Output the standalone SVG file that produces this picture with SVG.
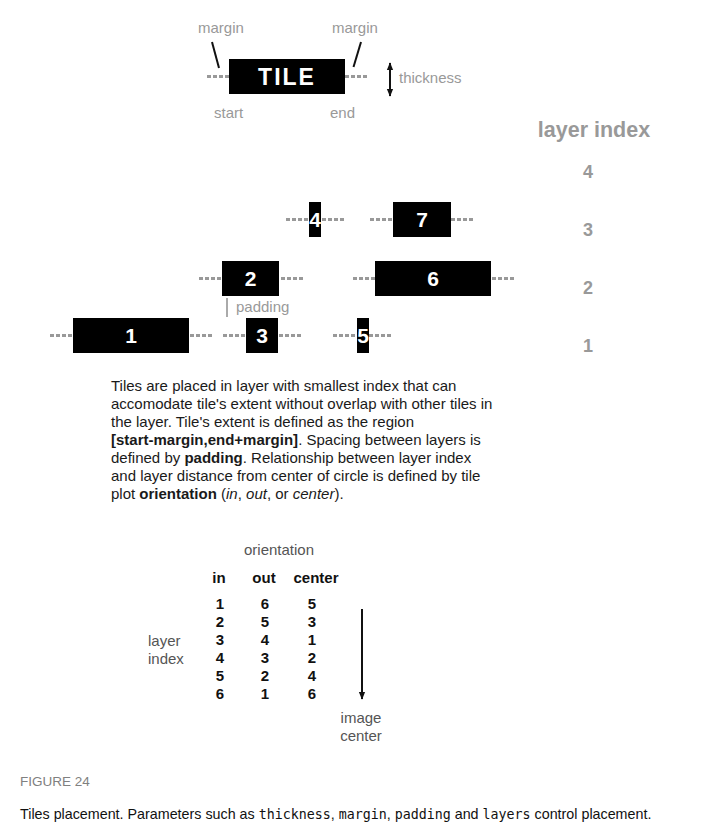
<svg xmlns="http://www.w3.org/2000/svg" width="702" height="832" viewBox="0 0 702 832">
<style>
.sans{font-family:"Liberation Sans",Arial,sans-serif}
.lbl{font-family:"Liberation Sans",Arial,sans-serif;font-size:15px;fill:#999}
.dots{stroke:#999;stroke-width:3;stroke-dasharray:4 2;fill:none}
.tile{fill:#000}
.tnum{font-family:"Liberation Sans",Arial,sans-serif;font-size:21px;font-weight:bold;fill:#fff;text-anchor:middle}
.lidx{font-family:"Liberation Sans",Arial,sans-serif;font-size:18px;font-weight:bold;fill:#999;text-anchor:middle}
.para{font-family:"Liberation Sans",Arial,sans-serif;font-size:15px;fill:#1a1a1a}
.tb{font-family:"Liberation Sans",Arial,sans-serif;font-size:15px;font-weight:bold;fill:#111;text-anchor:middle}
.dg{font-family:"Liberation Sans",Arial,sans-serif;font-size:15px;fill:#555}
.mono{font-family:"DejaVu Sans Mono","Liberation Mono",monospace;font-size:13.3px}
</style>
<defs>
<marker id="ah" viewBox="0 0 10 10" refX="9" refY="5" markerWidth="4" markerHeight="4" orient="auto-start-reverse" markerUnits="strokeWidth">
<path d="M0,1 L10,5 L0,9 Z" fill="#111"/>
</marker>
</defs>
<rect width="702" height="832" fill="#fff"/>

<g id="tile-legend">
<line class="dots" x1="207" y1="76.5" x2="229" y2="76.5"/>
<line class="dots" x1="345" y1="76.5" x2="367" y2="76.5"/>
<rect class="tile" x="229" y="59" width="116" height="35"/>
<text x="287" y="85" font-family="Liberation Sans,Arial,sans-serif" font-size="23" font-weight="bold" fill="#fff" text-anchor="middle" letter-spacing="2">TILE</text>
<text class="lbl" x="198" y="33">margin</text>
<text class="lbl" x="332" y="33">margin</text>
<line x1="212" y1="42" x2="219" y2="68" stroke="#111" stroke-width="2"/>
<line x1="361" y1="42" x2="353.5" y2="67" stroke="#111" stroke-width="2"/>
<text class="lbl" x="214" y="118">start</text>
<text class="lbl" x="330" y="118">end</text>
<line x1="390" y1="63" x2="390" y2="96" stroke="#111" stroke-width="2" marker-start="url(#ah)" marker-end="url(#ah)"/>
<text class="lbl" x="399" y="83">thickness</text>
</g>

<g id="layer-index">
<text x="594" y="137" class="sans" font-size="21.5" font-weight="bold" fill="#999" text-anchor="middle">layer index</text>
<text class="lidx" x="588" y="178">4</text>
<text class="lidx" x="588" y="236">3</text>
<text class="lidx" x="588" y="294">2</text>
<text class="lidx" x="588" y="352">1</text>
</g>

<g id="connectors">
<line class="dots" x1="286" y1="219.5" x2="344" y2="219.5"/>
<line class="dots" x1="370" y1="219.5" x2="393" y2="219.5"/>
<line class="dots" x1="451" y1="219.5" x2="473" y2="219.5"/>
<line class="dots" x1="199" y1="278.5" x2="222" y2="278.5"/>
<path class="dots" d="M281,278.5 H303"/>
<line class="dots" x1="353" y1="278.5" x2="375" y2="278.5"/>
<line class="dots" x1="492" y1="278.5" x2="514" y2="278.5"/>
<line class="dots" x1="50" y1="335.5" x2="73" y2="335.5"/>
<line class="dots" x1="190" y1="335.5" x2="212" y2="335.5"/>
<line class="dots" x1="223" y1="335.5" x2="246" y2="335.5"/>
<line class="dots" x1="279" y1="335.5" x2="301" y2="335.5"/>
<line class="dots" x1="333" y1="335.5" x2="392" y2="335.5"/>
</g>

<g id="tile-4"><rect class="tile" x="309" y="202" width="12" height="35"/><text class="tnum" x="315" y="227">4</text></g>
<g id="tile-7"><rect class="tile" x="393" y="202" width="58" height="35"/><text class="tnum" x="422" y="227">7</text></g>
<g id="tile-2"><rect class="tile" x="222" y="261" width="57" height="35"/><text class="tnum" x="250.5" y="286">2</text></g>
<g id="tile-6"><rect class="tile" x="375" y="261" width="116" height="35"/><text class="tnum" x="433" y="286">6</text></g>
<g id="tile-1"><rect class="tile" x="73" y="318" width="116" height="35"/><text class="tnum" x="131" y="343">1</text></g>
<g id="tile-3"><rect class="tile" x="246" y="318" width="32" height="35"/><text class="tnum" x="262" y="343">3</text></g>
<g id="tile-5"><rect class="tile" x="357" y="318" width="12" height="35"/><text class="tnum" x="363" y="343">5</text></g>

<g id="padding">
<line x1="227" y1="298" x2="227" y2="317" stroke="#aaa" stroke-width="2"/>
<text class="lbl" x="236" y="312">padding</text>
</g>

<g id="description" class="para">
<text x="111" y="390.5">Tiles are placed in layer with smallest index that can</text>
<text x="111" y="408.6">accomodate tile's extent without overlap with other tiles in</text>
<text x="111" y="426.7">the layer. Tile's extent is defined as the region</text>
<text x="111" y="444.8"><tspan font-weight="bold">[start-margin,end+margin]</tspan>. Spacing between layers is</text>
<text x="111" y="462.9">defined by <tspan font-weight="bold">padding</tspan>. Relationship between layer index</text>
<text x="111" y="481">and layer distance from center of circle is defined by tile</text>
<text x="111" y="499.1">plot <tspan font-weight="bold">orientation</tspan> (<tspan font-style="italic">in</tspan>, <tspan font-style="italic">out</tspan>, or <tspan font-style="italic">center</tspan>).</text>
</g>

<g id="orientation-table">
<text class="dg" x="244" y="555">orientation</text>
<text class="tb" x="219" y="583">in</text>
<text class="tb" x="264" y="583">out</text>
<text class="tb" x="316" y="583">center</text>
<text class="tb" x="220" y="609">1</text><text class="tb" x="265" y="609">6</text><text class="tb" x="312" y="609">5</text>
<text class="tb" x="220" y="627">2</text><text class="tb" x="265" y="627">5</text><text class="tb" x="312" y="627">3</text>
<text class="tb" x="220" y="645">3</text><text class="tb" x="265" y="645">4</text><text class="tb" x="312" y="645">1</text>
<text class="tb" x="220" y="663">4</text><text class="tb" x="265" y="663">3</text><text class="tb" x="312" y="663">2</text>
<text class="tb" x="220" y="681">5</text><text class="tb" x="265" y="681">2</text><text class="tb" x="312" y="681">4</text>
<text class="tb" x="220" y="699">6</text><text class="tb" x="265" y="699">1</text><text class="tb" x="312" y="699">6</text>
<text class="dg" x="148" y="646">layer</text>
<text class="dg" x="148" y="664">index</text>
<line x1="362" y1="609" x2="362" y2="699" stroke="#111" stroke-width="2" marker-end="url(#ah)"/>
<text class="dg" x="361" y="723" text-anchor="middle">image</text>
<text class="dg" x="361" y="741" text-anchor="middle">center</text>
</g>

<g id="caption">
<text x="20" y="786" class="sans" font-size="13.5" fill="#808080">FIGURE 24</text>
<text x="20" y="819" class="sans" font-size="14.3" fill="#111">Tiles placement. Parameters such as <tspan class="mono">thickness</tspan>, <tspan class="mono">margin</tspan>, <tspan class="mono">padding</tspan> and <tspan class="mono">layers</tspan> control placement.</text>
</g>
</svg>
